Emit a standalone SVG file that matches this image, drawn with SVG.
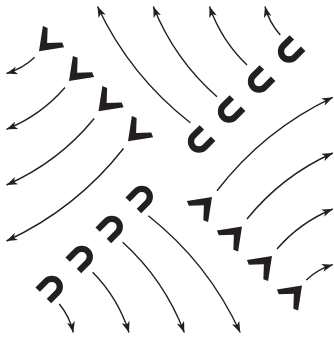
<svg xmlns="http://www.w3.org/2000/svg" xmlns:xlink="http://www.w3.org/1999/xlink" width="334" height="338" viewBox="0 0 334 338">
<style>
.fl{fill:none;stroke:#231f20;stroke-width:1.4;marker-end:url(#ah)}
.v{fill:#231f20}
.u{fill:none;stroke:#231f20;stroke-width:6.3}
</style>
<defs>
<marker id="ah" viewBox="0 0 11 8" refX="11" refY="4" markerWidth="11" markerHeight="8" markerUnits="userSpaceOnUse" orient="auto">
<path d="M0,0 L11,4 L0,8 L3,4 Z" fill="#231f20"/>
</marker>
<path id="chev" d="M0,0 L-15,-20.5 L-10.3,-22.5 L0,-11.5 L10.3,-22.5 L15,-20.5 Z"/>
<path id="ush" d="M-8,-12 V0 A8 8 0 0 0 8 0 V-12"/>
</defs>
<rect width="334" height="338" fill="#fff"/>
<g id="connectors">
<path class="fl" d="M34.7,57.3 Q22.5,68.8 6.5,73.5"/>
<path class="fl" d="M65,87.5 Q40.8,115.4 6.5,129.3"/>
<path class="fl" d="M94.2,118.5 Q58.3,162.3 6.5,185"/>
<path class="fl" d="M123.5,148.5 Q76.1,208.8 6.5,241"/>
<path class="fl" d="M190.3,122.7 Q130,75.7 97.5,6.5"/>
<path class="fl" d="M217,96.7 Q174.3,59.2 153.3,6.5"/>
<path class="fl" d="M247,65 Q221.2,40.25 209.5,6.5"/>
<path class="fl" d="M280.3,35 Q269.2,22.6 265,6.5"/>
<path class="fl" d="M217,190.7 Q263.7,130.1 332.8,97.3"/>
<path class="fl" d="M247,219 Q282,175.7 332.8,153"/>
<path class="fl" d="M277,249 Q300.1,222.3 332.8,209"/>
<path class="fl" d="M306.3,280 Q317.7,269.2 332.8,264.7"/>
<path class="fl" d="M59.3,304 Q69.7,316.6 73.3,332.5"/>
<path class="fl" d="M92.7,272.3 Q118.1,298 129,332.5"/>
<path class="fl" d="M122.7,242.3 Q164.3,280 184.3,332.5"/>
<path class="fl" d="M148.3,215.7 Q208.3,263.1 240.2,332.5"/>
</g>
<g id="v1" class="v"><use xlink:href="#chev" transform="translate(39,51.2) rotate(45)"/></g>
<g id="v2" class="v"><use xlink:href="#chev" transform="translate(69,81) rotate(45)"/></g>
<g id="v3" class="v"><use xlink:href="#chev" transform="translate(98.5,111.2) rotate(45)"/></g>
<g id="v4" class="v"><use xlink:href="#chev" transform="translate(128,141.2) rotate(45)"/></g>
<g id="v5" class="v"><use xlink:href="#chev" transform="translate(212,197) rotate(225)"/></g>
<g id="v6" class="v"><use xlink:href="#chev" transform="translate(242,226.5) rotate(225)"/></g>
<g id="v7" class="v"><use xlink:href="#chev" transform="translate(272,256) rotate(225)"/></g>
<g id="v8" class="v"><use xlink:href="#chev" transform="translate(302,285.5) rotate(225)"/></g>
<g id="u1" class="u"><use xlink:href="#ush" transform="translate(199,141.5) rotate(45)"/></g>
<g id="u2" class="u"><use xlink:href="#ush" transform="translate(229,111.5) rotate(45)"/></g>
<g id="u3" class="u"><use xlink:href="#ush" transform="translate(259,81.5) rotate(45)"/></g>
<g id="u4" class="u"><use xlink:href="#ush" transform="translate(289,51.5) rotate(45)"/></g>
<g id="u5" class="u"><use xlink:href="#ush" transform="translate(51.8,286.8) rotate(225)"/></g>
<g id="u6" class="u"><use xlink:href="#ush" transform="translate(81.8,256.8) rotate(225)"/></g>
<g id="u7" class="u"><use xlink:href="#ush" transform="translate(111.8,226.8) rotate(225)"/></g>
<g id="u8" class="u"><use xlink:href="#ush" transform="translate(141.8,196.8) rotate(225)"/></g>
</svg>
